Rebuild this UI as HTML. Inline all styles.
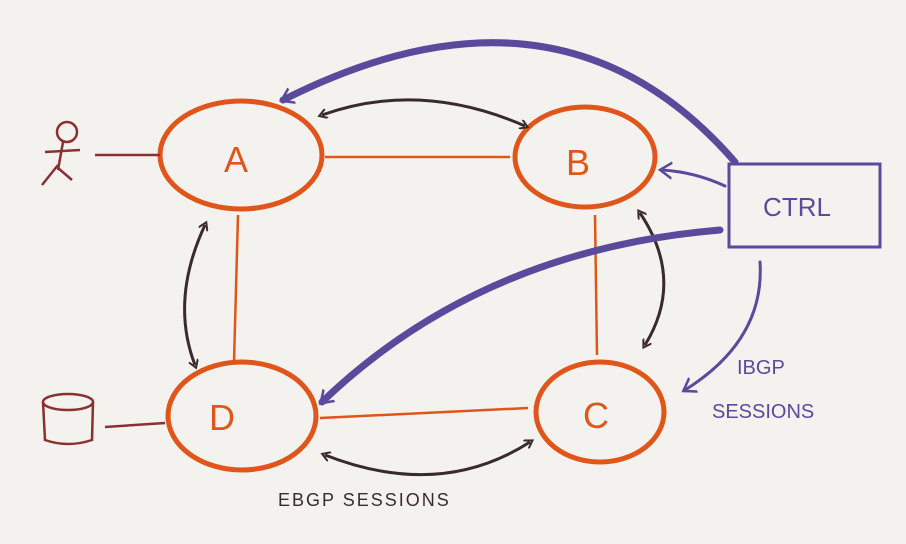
<!DOCTYPE html>
<html><head><meta charset="utf-8"><style>
html,body{margin:0;padding:0;background:#f4f2ef;}
svg{display:block;}
text{font-family:"Liberation Sans",sans-serif;}
</style></head><body>
<svg width="906" height="544" viewBox="0 0 906 544" xmlns="http://www.w3.org/2000/svg">
<rect width="906" height="544" fill="#f4f2ef"/>
<defs>
<marker id="ab" markerWidth="10" markerHeight="10" refX="5" refY="5" orient="auto-start-reverse" markerUnits="userSpaceOnUse"><path d="M0,0 L8,5 L0,10" fill="none" stroke="#3a2b2b" stroke-width="2"/></marker>
<marker id="ap" markerWidth="20" markerHeight="20" refX="10" refY="10" orient="auto" markerUnits="userSpaceOnUse"><path d="M0,2 L12,10 L0,18" fill="none" stroke="#5b4a9c" stroke-width="2.5"/></marker>
</defs>
<g stroke="#e0561a" stroke-width="2.5" fill="none">
<line x1="325" y1="157" x2="510" y2="157"/>
<line x1="238" y1="215" x2="234" y2="362"/>
<line x1="595" y1="215" x2="597" y2="355"/>
<line x1="320" y1="418" x2="528" y2="408"/>
</g>
<g stroke="#e0561a" stroke-width="5" fill="none">
<ellipse cx="241" cy="155" rx="81" ry="54"/>
<ellipse cx="585" cy="157" rx="70" ry="50"/>
<ellipse cx="242" cy="416" rx="74" ry="54"/>
<ellipse cx="600" cy="412" rx="64" ry="50"/>
</g>
<g fill="#e0561a" font-size="36" text-anchor="middle">
<text x="236" y="172">A</text>
<text x="578" y="175">B</text>
<text x="222" y="430">D</text>
<text x="596" y="428">C</text>
</g>
<g stroke="#8a3030" stroke-width="2.5" fill="none">
<line x1="95" y1="155" x2="160" y2="155"/>
<line x1="105" y1="427" x2="165" y2="423"/>
<circle cx="67" cy="132" r="10"/>
<line x1="63" y1="142" x2="58" y2="170"/>
<line x1="45" y1="152" x2="80" y2="150"/>
<path d="M58,165 L42,185 M58,168 L72,180"/>
<ellipse cx="68" cy="402" rx="25" ry="8"/>
<path d="M43,402 L45,440 Q68,448 92,440 L93,402"/>
</g>
<g stroke="#3a2b2b" stroke-width="3" fill="none">
<path d="M322,115 Q420,80 525,126" marker-start="url(#ab)" marker-end="url(#ab)"/>
<path d="M205,225 Q170,300 195,365" marker-start="url(#ab)" marker-end="url(#ab)"/>
<path d="M640,213 Q685,280 645,345" marker-start="url(#ab)" marker-end="url(#ab)"/>
<path d="M325,455 Q440,500 530,442" marker-start="url(#ab)" marker-end="url(#ab)"/>
</g>
<rect x="729" y="164" width="151" height="83" fill="none" stroke="#5b4a9c" stroke-width="3"/>
<text x="797" y="216" fill="#5b4a9c" font-size="26" text-anchor="middle">CTRL</text>
<g stroke="#5b4a9c" fill="none" stroke-linecap="round">
<path d="M735,162 Q560,-40 283,100" stroke-width="7" marker-end="url(#ap)"/>
<path d="M725,186 Q695,172 662,170" stroke-width="3" marker-end="url(#ap)"/>
<path d="M720,230 Q480,250 322,402" stroke-width="7" marker-end="url(#ap)"/>
<path d="M760,262 Q765,340 685,390" stroke-width="3" marker-end="url(#ap)"/>
</g>
<g fill="#5b4a9c" font-size="20">
<text x="737" y="374">IBGP</text>
<text x="712" y="418">SESSIONS</text>
</g>
<text x="278" y="506" fill="#3a2b2b" font-size="18" letter-spacing="2">EBGP SESSIONS</text>
</svg>
</body></html>
